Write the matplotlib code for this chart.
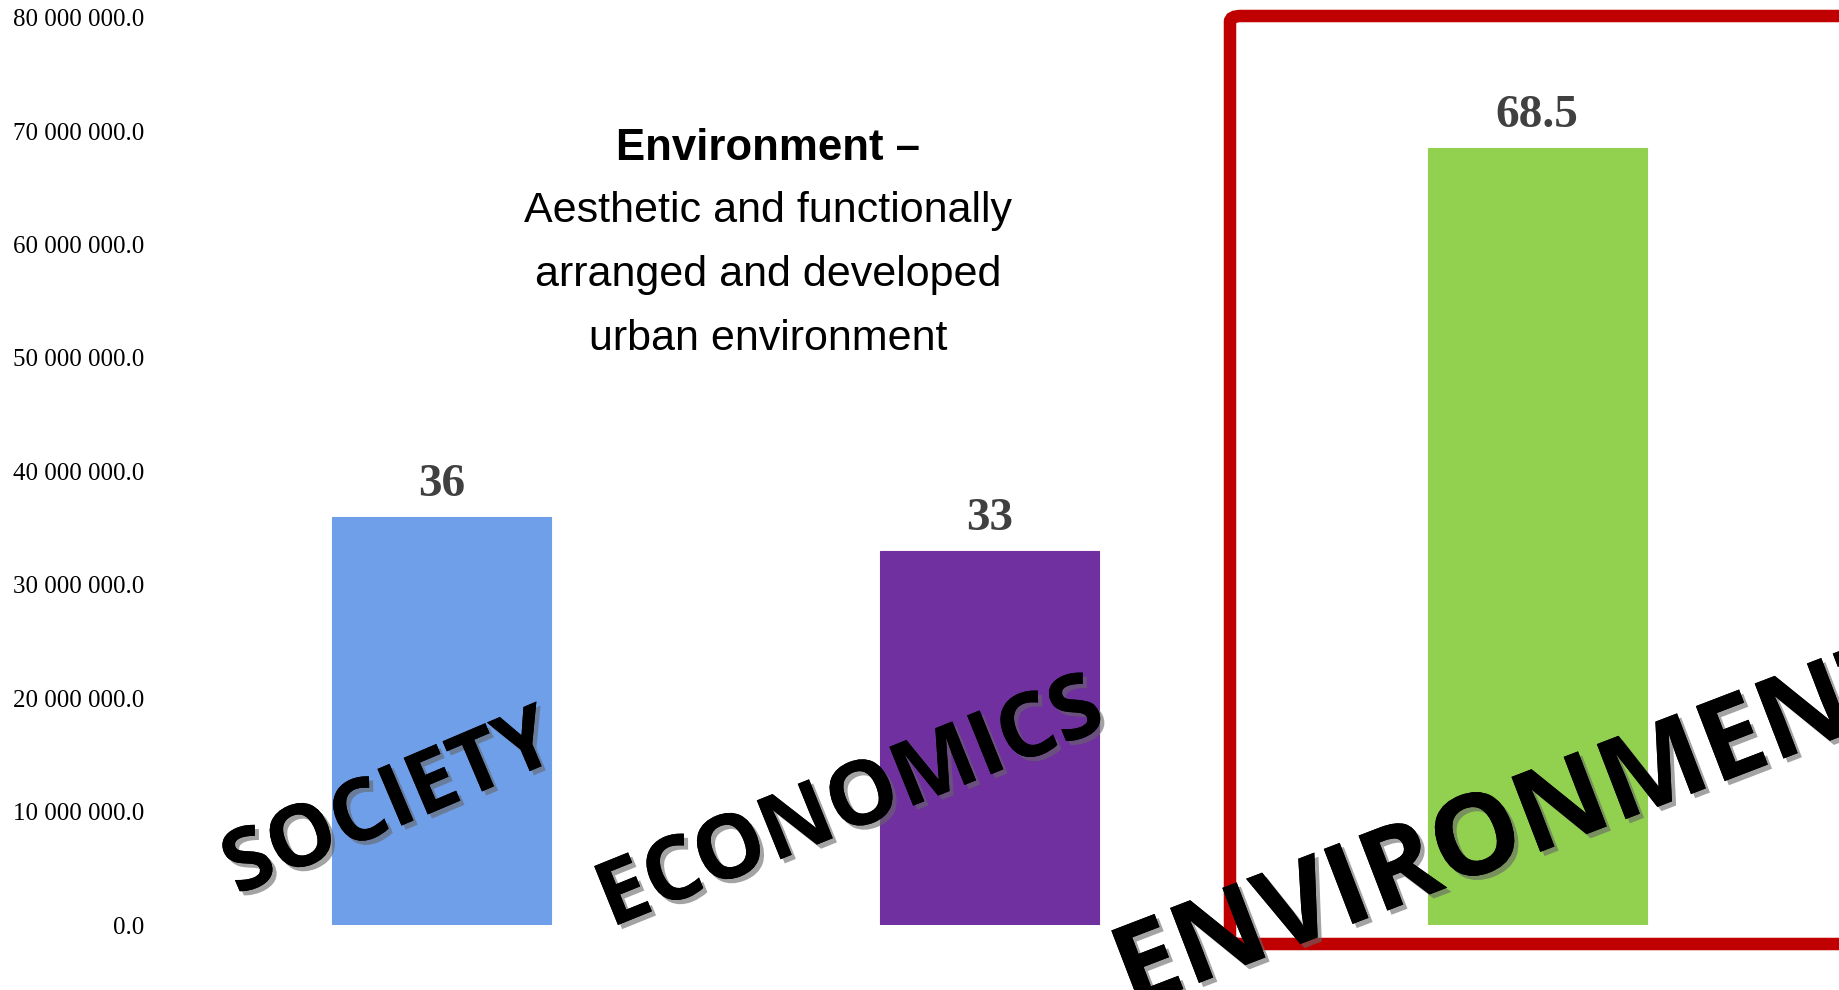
import matplotlib
matplotlib.use("Agg")
import matplotlib.pyplot as plt
import matplotlib.patheffects as pe
from matplotlib.patches import FancyBboxPatch
from matplotlib.ticker import FuncFormatter

# ---- data ----
categories = ["SOCIETY", "ECONOMICS", "ENVIRONMENT"]
values = [36000000, 33000000, 68500000]
value_labels = ["36", "33", "68.5"]
colors = ["#6E9FE8", "#7030A0", "#92D050"]
title_bold = "Environment \u2013"
title_lines = ["Aesthetic and functionally",
               "arranged and developed",
               "urban environment"]

W, H = 1839, 990
fig = plt.figure(figsize=(W / 100, H / 100), dpi=100)
ax = fig.add_axes([168 / W, 1 - 925 / H, (1811 - 168) / W, (925 - 17.6) / H])

x = range(len(categories))
bars = ax.bar(x, values, width=0.4, color=colors, edgecolor=colors, linewidth=0.8)
ax.set_xlim(-0.5, 2.5)
ax.set_ylim(0, 80000000)
ax.set_yticks(range(0, 80000001, 10000000))
ax.yaxis.set_major_formatter(FuncFormatter(lambda v, p: "{:,.1f}".format(v).replace(",", " ")))
for lbl in ax.get_yticklabels():
    lbl.set_family("Liberation Serif")
    lbl.set_fontsize(18)
ax.tick_params(axis="y", length=0, pad=17)
ax.set_xticks([])
for s in ax.spines.values():
    s.set_visible(False)

# value labels above bars
for b, txt in zip(bars, value_labels):
    ax.annotate(txt, (b.get_x() + b.get_width() / 2, b.get_height()),
                xytext=(0, 23), textcoords="offset points", ha="center", va="center",
                fontsize=34, fontweight="bold", family="Liberation Serif", color="#404040")

# red highlight frame round the environment bar
frame = FancyBboxPatch((1230 / W, 1 - 944 / H), 700 / W, (944 - 16) / H,
                       boxstyle="round,pad=0,rounding_size=0.006",
                       transform=fig.transFigure, fill=False,
                       edgecolor="#C00000", linewidth=9, zorder=2)
fig.patches.append(frame)

# title block
fig.text(768 / W, 1 - 148 / H, title_bold, ha="center", va="center", fontsize=31.5,
         fontweight="bold", family="Liberation Sans")
for i, line in enumerate(title_lines):
    fig.text(768 / W, 1 - (211 + 64 * i) / H, line, ha="center", va="center", fontsize=31,
             family="Liberation Sans")

# big slanted category words with shadow
shadow = [pe.withSimplePatchShadow(offset=(3, -3), shadow_rgbFace="#666666", alpha=0.6), pe.Normal()]
word_pos = [(390, 806, 23, 62), (851, 806, 22, 64), (1515, 830, 21, 81)]
for word, (px, py, rot, fs) in zip(categories, word_pos):
    fig.text(px / W, 1 - py / H, word, ha="center", va="center", rotation=rot,
             rotation_mode="anchor", fontsize=fs, fontweight="bold", family="Open Sans",
             color="black", path_effects=shadow, zorder=4)

fig.savefig("out.png", dpi=100, facecolor="white")
